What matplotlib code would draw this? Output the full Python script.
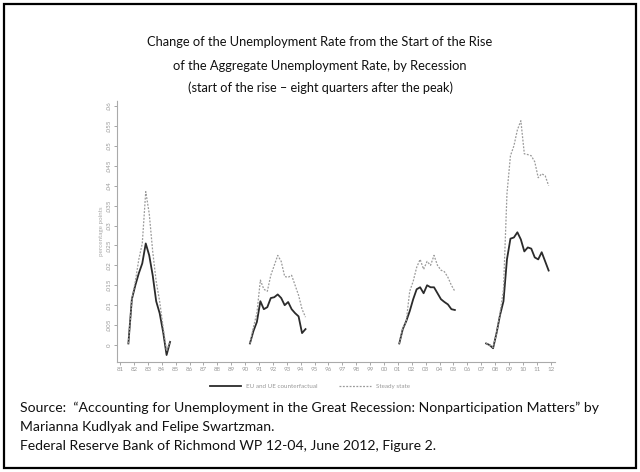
import matplotlib.pyplot as plt
import numpy as np
import pandas as pd
from matplotlib.patches import Rectangle

# Change in unemployment rate (fraction) from start of rise, quarterly
starts = ["1981Q3", "1990Q2", "2001Q1", "2007Q2"]

eu_ue = [
    [0.0004, 0.0115, 0.015, 0.018, 0.0205, 0.0255, 0.0225, 0.0175, 0.011, 0.008, 0.0033, -0.0025, 0.0008],
    [0.0004, 0.0035, 0.0058, 0.011, 0.009, 0.0095, 0.0118, 0.012, 0.0127, 0.0118, 0.010, 0.0108, 0.009,
     0.008, 0.0072, 0.003, 0.004],
    [0.0004, 0.004, 0.006, 0.0085, 0.0115, 0.014, 0.0145, 0.013, 0.015, 0.0145, 0.0145, 0.013, 0.0115,
     0.0108, 0.0102, 0.009, 0.0088],
    [0.0004, 0.0, -0.0008, 0.003, 0.0075, 0.011, 0.0215, 0.0267, 0.027, 0.0283, 0.0265, 0.0235, 0.0245,
     0.0242, 0.022, 0.0215, 0.0233, 0.021, 0.0187],
]

steady = [
    [0.0004, 0.0115, 0.016, 0.0215, 0.0255, 0.0385, 0.033, 0.0235, 0.016, 0.011, 0.0045, -0.0015, 0.001],
    [0.0004, 0.0045, 0.008, 0.0163, 0.014, 0.0135, 0.0175, 0.020, 0.0225, 0.021, 0.0172, 0.017, 0.0175,
     0.015, 0.0125, 0.009, 0.007],
    [0.0004, 0.0042, 0.006, 0.0135, 0.016, 0.0195, 0.0215, 0.019, 0.021, 0.020, 0.0225, 0.020, 0.0188,
     0.0184, 0.017, 0.015, 0.0135],
    [0.0004, 0.0, -0.0006, 0.003, 0.008, 0.014, 0.038, 0.0475, 0.050, 0.054, 0.0563, 0.048, 0.0478,
     0.0475, 0.046, 0.042, 0.043, 0.0425, 0.040],
]

years = list(range(1981, 2013))
yticks = np.arange(0, 0.0601, 0.005)
ytick_labels = ["0"] + [f"{v:.3f}".lstrip("0").rstrip("0") for v in yticks[1:]]

title = ["Change of the Unemployment Rate from the Start of the Rise",
         "of the Aggregate Unemployment Rate, by Recession"]
subtitle = "(start of the rise \u2013 eight quarters after the peak)"
source = ["Source:  \u201cAccounting for Unemployment in the Great Recession: Nonparticipation Matters\u201d by",
          "Marianna Kudlyak and Felipe Swartzman.",
          "Federal Reserve Bank of Richmond WP 12-04, June 2012, Figure 2."]

plt.rcParams['font.family'] = ['Lato', 'DejaVu Sans']

fig = plt.figure(figsize=(6.4, 4.72), dpi=100)
fig.patches.append(Rectangle((0.007, 0.008), 0.986, 0.984, transform=fig.transFigure,
                             fill=False, edgecolor="black", linewidth=1.6))

fig.text(0.5, 0.911, title[0], ha="center", va="center", fontsize=9.3, color="#111111")
fig.text(0.5, 0.860, title[1], ha="center", va="center", fontsize=9.3, color="#111111")
fig.text(0.5, 0.814, subtitle, ha="center", va="center", fontsize=9.2, color="#111111")
for i, line in enumerate(source):
    fig.text(0.031, 0.1356 - i * 0.0403, line, ha="left", va="center", fontsize=10.1, color="#111111")

ax = fig.add_axes([0.1828, 0.2331, 0.684, 0.555])
for i, start in enumerate(starts):
    q = pd.period_range(start, periods=len(eu_ue[i]), freq="Q")
    x = q.year + (q.quarter - 1) / 4 + 0.1
    ax.plot(x, eu_ue[i], color="#2b2b2b", linewidth=1.3,
            label="EU and UE counterfactual" if i == 0 else None)
    ax.plot(x, steady[i], color="#9a9a9a", linewidth=0.9, linestyle=(0, (1.5, 1.2)),
            label="Steady state" if i == 0 else None)

ax.set_xlim(1980.78, 2012.29)
ax.set_ylim(-0.00425, 0.0615)
ax.set_xticks(years)
ax.set_xticklabels([f"{y % 100:02d}" for y in years])
ax.set_yticks(yticks)
ax.set_yticklabels(ytick_labels, rotation=90, va="center")
ax.tick_params(labelsize=4.5, colors="#999999", length=2, width=0.6, pad=1.5)
ax.set_ylabel("percentage points", fontsize=4.5, color="#aaaaaa", labelpad=2)
for s in ["top", "right"]:
    ax.spines[s].set_visible(False)
for s in ["left", "bottom"]:
    ax.spines[s].set_color("#aaaaaa")
    ax.spines[s].set_linestyle((0, (1, 1)))
    ax.spines[s].set_linewidth(0.8)

ax.legend(loc="upper center", bbox_to_anchor=(0.44, -0.06), ncol=2, frameon=False,
          fontsize=4.5, labelcolor="#999999", handlelength=5, columnspacing=3.5)

fig.savefig("out.png", dpi=100)
